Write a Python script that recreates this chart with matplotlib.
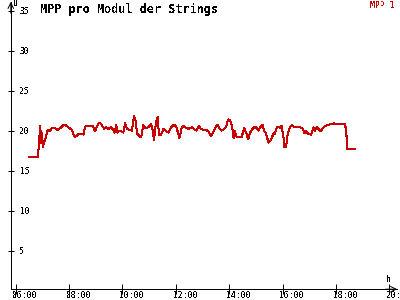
import matplotlib
matplotlib.use("Agg")
import matplotlib.pyplot as plt
from matplotlib.transforms import ScaledTranslation

# MPP voltage per module
times = ["06:30", "06:50", "06:51", "06:55", "06:57", "06:59", "07:01", "07:04", "07:08", "07:12",
         "07:17", "07:21", "07:28", "07:34", "07:40", "07:47", "07:52", "07:58", "08:06", "08:12",
         "08:15", "08:21", "08:28", "08:32", "08:36", "08:43", "08:53", "08:58", "09:04", "09:08",
         "09:12", "09:19", "09:23", "09:28", "09:34", "09:38", "09:42", "09:46", "09:49", "09:53",
         "10:02", "10:06", "10:10", "10:21", "10:26", "10:31", "10:32", "10:38", "10:42", "10:47",
         "10:52", "10:58", "11:04", "11:07", "11:11", "11:15", "11:19", "11:22", "11:27", "11:32",
         "11:37", "11:43", "11:49", "11:55", "12:00", "12:04", "12:08", "12:13", "12:17", "12:22",
         "12:27", "12:36", "12:41", "12:46", "12:52", "12:56", "13:01", "13:08", "13:13", "13:19",
         "13:25", "13:31", "13:34", "13:38", "13:43", "13:49", "13:53", "13:58", "14:02", "14:06",
         "14:10", "14:13", "14:17", "14:28", "14:34", "14:38", "14:43", "14:47", "14:52", "14:58",
         "15:02", "15:06", "15:10", "15:15", "15:19", "15:22", "15:25", "15:28", "15:34", "15:40",
         "15:43", "15:47", "15:51", "15:55", "15:58", "16:02", "16:04", "16:08", "16:12", "16:17",
         "16:22", "16:27", "16:40", "16:45", "16:49", "16:53", "16:58", "17:04", "17:10", "17:13",
         "17:17", "17:21", "17:25", "17:31", "17:36", "17:43", "17:51", "17:56", "18:02", "18:21",
         "18:25", "18:26", "18:43"]
mpp1 = [16.7, 16.7, 17.6, 20.6, 18.45, 19.7, 18.0, 18.6, 19.25, 20.1,
        20.0, 20.3, 20.3, 20.1, 20.3, 20.7, 20.7, 20.4, 20.1, 19.25,
        19.25, 19.6, 19.6, 19.5, 20.5, 20.6, 20.6, 19.9, 20.7, 21.0,
        20.8, 20.2, 20.4, 20.2, 20.4, 20.2, 19.75, 20.7, 19.75, 20.0,
        19.75, 20.9, 20.2, 20.0, 21.8, 20.9, 19.7, 19.3, 19.2, 20.7,
        20.3, 20.4, 20.8, 20.3, 18.8, 20.9, 21.7, 19.5, 19.5, 20.2,
        20.0, 19.75, 20.4, 20.7, 20.6, 19.9, 19.05, 20.3, 20.6, 20.4,
        20.2, 20.4, 20.2, 20.0, 20.6, 20.2, 20.1, 20.1, 19.9, 19.3,
        19.9, 20.6, 20.7, 20.3, 20.0, 20.2, 20.5, 21.4, 21.25, 20.7,
        19.05, 19.9, 19.2, 19.2, 20.3, 19.75, 18.9, 19.75, 20.2, 20.5,
        20.3, 20.0, 20.4, 20.7, 19.9, 19.75, 19.25, 18.5, 18.8, 19.7,
        19.6, 20.4, 20.5, 20.3, 20.6, 19.25, 17.9, 17.9, 19.7, 20.5,
        20.7, 20.4, 20.4, 20.3, 19.7, 19.9, 19.6, 19.5, 20.4, 20.0,
        20.4, 20.2, 19.9, 20.3, 20.6, 20.7, 20.8, 20.9, 20.8, 20.8,
        18.8, 17.7, 17.7]

xticks = [6, 8, 10, 12, 14, 16, 18, 20]
xticklabels = ["06:00", "08:00", "10:00", "12:00", "14:00", "16:00", "18:00", "20:00"]
yticks = [5, 10, 15, 20, 25, 30, 35]

hours = [int(t[:2]) + int(t[3:]) / 60 for t in times]

plt.rcParams['font.family'] = ['DejaVu Sans Mono']
plt.rcParams['text.antialiased'] = False

fig = plt.figure(figsize=(4, 3), dpi=100)
ax = fig.add_axes([0.027, 0.036, 0.966, 0.958])

ax.plot(hours, mpp1, color="#c80000", lw=0.72, antialiased=False)

ax.set_xlim(5.8125, 20.3)
ax.set_ylim(0.17, 36.1)

ax.spines['top'].set_visible(False)
ax.spines['right'].set_visible(False)
for s in ['left', 'bottom']:
    ax.spines[s].set_linewidth(0.72)
    ax.spines[s].set_antialiased(False)

ax.set_xticks(xticks)
ax.set_xticklabels(xticklabels, ha='left')
ax.set_yticks(yticks)
ax.set_yticklabels([str(v) for v in yticks], ha='left')
ax.tick_params(axis='x', direction='inout', length=7, width=0.72, labelsize=5.8, pad=-2.5)
ax.tick_params(axis='y', direction='inout', length=5, width=0.72, labelsize=5.8, pad=-9)
shift = ScaledTranslation(-3 / 100, 0, fig.dpi_scale_trans)
for lbl in ax.get_xticklabels():
    lbl.set_transform(lbl.get_transform() + shift)

# axis arrows
ax.annotate('', xy=(0, 1.0), xytext=(0, 0.96), xycoords='axes fraction',
            arrowprops=dict(arrowstyle='->', lw=0.72, color='black', shrinkA=0, shrinkB=0))
ax.annotate('', xy=(1.0, 0), xytext=(0.97, 0), xycoords='axes fraction',
            arrowprops=dict(arrowstyle='->', lw=0.72, color='black', shrinkA=0, shrinkB=0))

fig.text(13 / 400, 1 - 4 / 300, "U", fontsize=5.8, va='center', ha='left')
fig.text(386 / 400, 1 - 280 / 300, "h", fontsize=5.8, va='center', ha='left')
fig.text(40 / 400, 1 - 9 / 300, "MPP pro Modul der Strings", fontsize=8.5,
         fontweight='bold', va='center', ha='left')
fig.text(394 / 400, 1 - 6 / 300, "MPP 1", fontsize=5.8, color="#c80000",
         va='center', ha='right')

fig.savefig("out.png", dpi=100)
